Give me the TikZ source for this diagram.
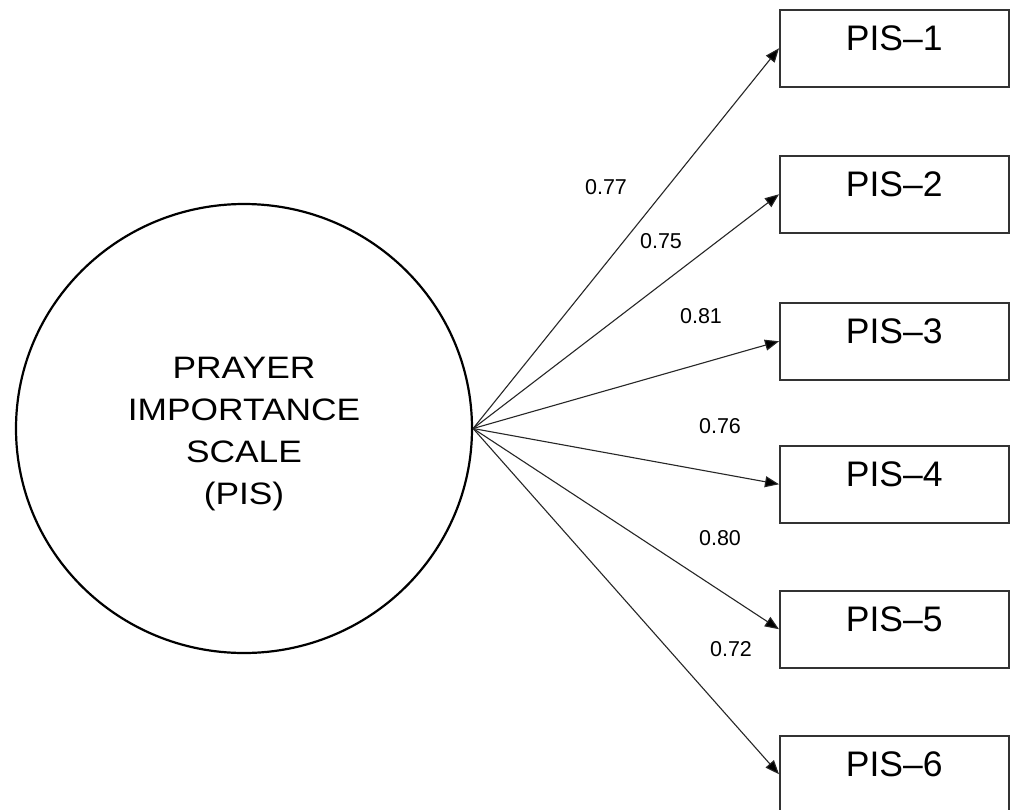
\documentclass[tikz,border=0pt]{standalone}
\usepackage{fontspec}
\setmainfont{Liberation Sans}
\newfontfamily\widesans[FakeStretch=1.14]{Liberation Sans}
\usetikzlibrary{shapes.geometric,arrows.meta}
\begin{document}
\begin{tikzpicture}[x=1pt,y=-1pt,
  itembox/.style={draw=black!80,line width=1.5pt,rectangle,minimum width=229pt,minimum height=77pt,
    inner xsep=0pt,inner ysep=16pt,text height=25pt,text depth=20pt,
    font=\fontsize{35.5pt}{40pt}\selectfont,anchor=north west},
  latent/.style={draw=black,line width=2.2pt,ellipse,minimum width=456pt,minimum height=449pt,inner sep=0pt},
  loadarrow/.style={draw=black!85,line width=1.1pt,-{Triangle[length=14pt,width=11pt,fill=black]}},
  coef/.style={font=\fontsize{21.5pt}{24pt}\selectfont,inner sep=0pt,text height=15.4pt,text depth=0pt}]
\useasboundingbox (0,0) rectangle (1011,809);
\clip (0,0) rectangle (1011,809);
\fill[white] (0,0) rectangle (1011,809);

\node[latent] (pis) at (244,428.5) {};
\node[anchor=north,inner sep=0pt,align=center,font=\widesans\fontsize{31pt}{42pt}\selectfont] (pistext) at (244,356.5)
  {PRAYER\\IMPORTANCE\\SCALE\\(PIS)};

\node[itembox] (b1) at (779,9) {PIS–1};
\node[itembox] (b2) at (779,155) {PIS–2};
\node[itembox] (b3) at (779,302) {PIS–3};
\node[itembox] (b4) at (779,445) {PIS–4};
\node[itembox] (b5) at (779,590) {PIS–5};
\node[itembox] (b6) at (779,735) {PIS–6};

\foreach \b in {b1,b2,b3,b4,b5,b6}{
  \draw[loadarrow] (pis.east) -- (\b.west);
}

\node[coef] (c1) at (606,186.3) {0.77};
\node[coef] (c2) at (661,240.3) {0.75};
\node[coef] (c3) at (701,315.7) {0.81};
\node[coef] (c4) at (720,425.8) {0.76};
\node[coef] (c5) at (720,537.5) {0.80};
\node[coef] (c6) at (731,649) {0.72};
\end{tikzpicture}
\end{document}
